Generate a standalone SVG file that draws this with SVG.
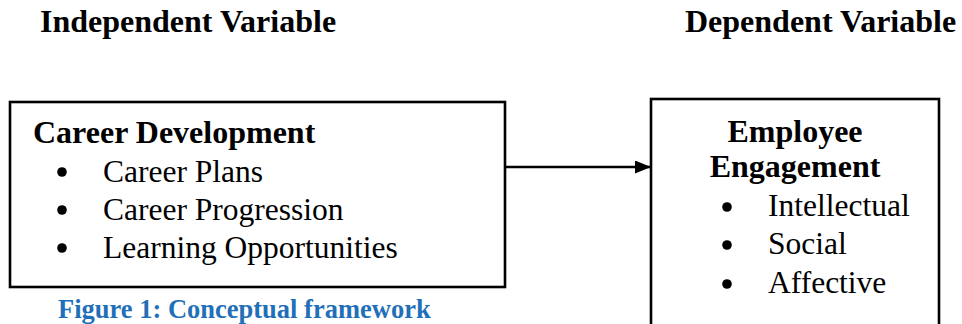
<svg xmlns="http://www.w3.org/2000/svg" width="962" height="324" viewBox="0 0 962 324">
<style>
text { font-family: "Liberation Serif", "Times New Roman", serif; fill: #000; }
.hd { font-size: 32px; font-weight: bold; }
.tt { font-size: 32px; font-weight: bold; }
.it { font-size: 31.5px; }
.box { fill: #fff; stroke: #000; stroke-width: 2.6; }
.cap { font-size: 26.5px; font-weight: bold; fill: #1F70B8; }
</style>
<defs>
<marker id="ah" viewBox="0 0 10 10" refX="10" refY="5" markerWidth="16" markerHeight="13" markerUnits="userSpaceOnUse" orient="auto" preserveAspectRatio="none">
<path d="M0,0 L10,5 L0,10 Z" fill="#000"/>
</marker>
</defs>
<rect width="962" height="324" fill="#fff"/>
<g id="headers">
<text class="hd" x="40" y="32">Independent Variable</text>
<text class="hd" x="685" y="32">Dependent Variable</text>
</g>
<g id="career-development">
<rect class="box" x="10" y="102" width="495" height="185"/>
<text class="tt" x="33" y="143">Career Development</text>
<circle cx="62" cy="172" r="4.8"/>
<text class="it" x="103" y="182">Career Plans</text>
<circle cx="62" cy="210" r="4.8"/>
<text class="it" x="103" y="220">Career Progression</text>
<circle cx="62" cy="248" r="4.8"/>
<text class="it" x="103" y="258">Learning Opportunities</text>
</g>
<g id="employee-engagement">
<rect class="box" x="651" y="99" width="288" height="240"/>
<text class="tt" x="795" y="142" text-anchor="middle">Employee</text>
<text class="tt" x="795" y="177" text-anchor="middle">Engagement</text>
<circle cx="727" cy="207" r="4.8"/>
<text class="it" x="768" y="216">Intellectual</text>
<circle cx="727" cy="245" r="4.8"/>
<text class="it" x="768" y="254">Social</text>
<circle cx="727" cy="284" r="4.8"/>
<text class="it" x="768" y="293">Affective</text>
</g>
<g id="connectors">
<line x1="505" y1="167" x2="651" y2="167" stroke="#000" stroke-width="2.4" marker-end="url(#ah)"/>
</g>
<g id="caption">
<text class="cap" x="58" y="318">Figure 1: Conceptual framework</text>
</g>
</svg>
